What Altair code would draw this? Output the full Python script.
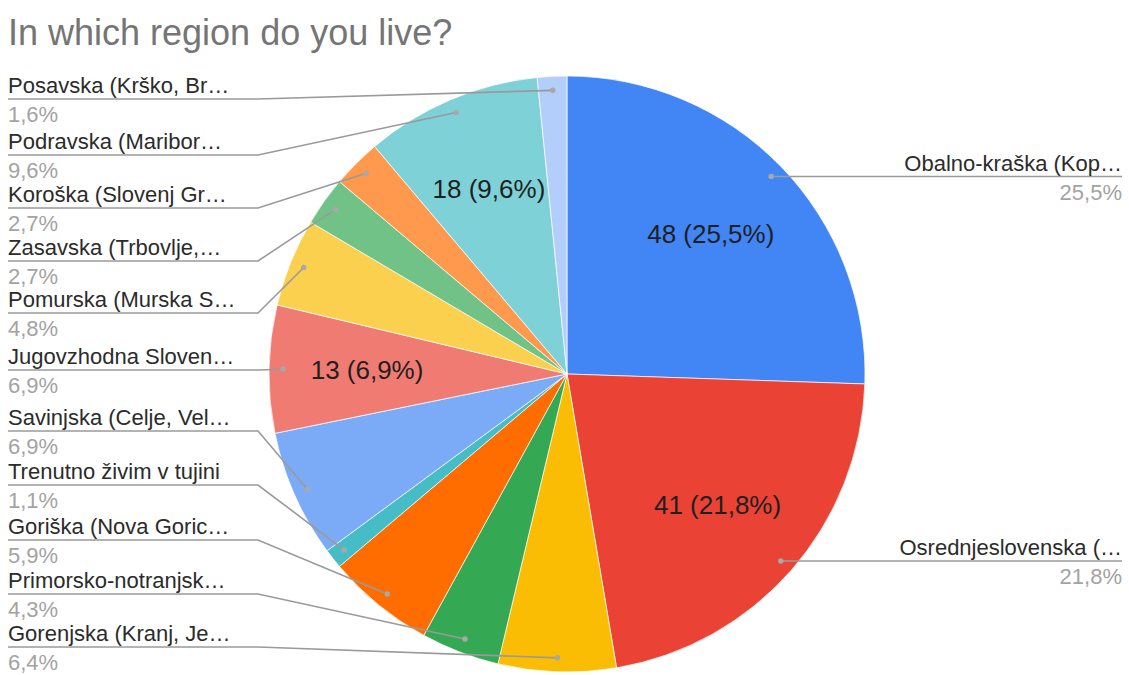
import math
import altair as alt
import pandas as pd

# ---------------- data ----------------
title = "In which region do you live?"
regions = [
    "Obalno-kraška (Kop…",
    "Osrednjeslovenska (…",
    "Gorenjska (Kranj, Je…",
    "Primorsko-notranjsk…",
    "Goriška (Nova Goric…",
    "Trenutno živim v tujini",
    "Savinjska (Celje, Vel…",
    "Jugovzhodna Sloven…",
    "Pomurska (Murska S…",
    "Zasavska (Trbovlje,…",
    "Koroška (Slovenj Gr…",
    "Podravska (Maribor…",
    "Posavska (Krško, Br…",
]
counts = [48, 41, 12, 8, 11, 2, 13, 13, 9, 5, 5, 18, 3]
show_inner = [True, True, False, False, False, False, False, True, False, False, False, True, False]
colors = [
    "#4285F4", "#EA4335", "#FBBC04", "#34A853", "#FF6D01", "#46BDC6", "#7BAAF7",
    "#F07B72", "#FCD04F", "#71C287", "#FF994D", "#7ED1D7", "#B3CEFB",
]

# ---------------- layout ----------------
CX, CY, R = 567, 374, 298
DOT_R = 284
INNER_R = 200
LEFT_X0, KNEE_X, RIGHT_X1 = 8, 258, 1122
W, H = 1129, 675
FONT = "Arial, Liberation Sans, sans-serif"
# underline y of the left-hand labels, by slice index
left_line_y = {2: 647, 3: 594, 4: 540, 5: 485, 6: 431, 7: 370, 8: 313,
               9: 261, 10: 208, 11: 155, 12: 99}

total = sum(counts)
rows, line_rows = [], []
cum = 0
for i, (reg, c) in enumerate(zip(regions, counts)):
    mid = (cum + c / 2) / total * 2 * math.pi
    cum += c
    dx = CX + DOT_R * math.sin(mid)
    dy = CY - DOT_R * math.cos(mid)
    pct = f"{c / total * 100:.1f}".replace(".", ",") + "%"
    side = "right" if i < 2 else "left"
    ly = dy if side == "right" else left_line_y[i]
    lx = RIGHT_X1 if side == "right" else LEFT_X0
    rows.append(dict(idx=i, region=reg, count=c, pct=pct, side=side,
                     dx=dx, dy=dy, lx=lx, ly=ly,
                     name_y=ly - 13, pct_y=ly + 16,
                     inner=f"{c} ({pct})" if show_inner[i] else ""))
    if side == "right":
        pts = [(dx, dy), (RIGHT_X1, dy)]
    else:
        pts = [(LEFT_X0, ly), (KNEE_X, ly), (dx, dy)]
    for s, (px, py) in enumerate(pts):
        line_rows.append(dict(region=reg, seq=s, x=px, y=py))

df = pd.DataFrame(rows)
lines_df = pd.DataFrame(line_rows)

xs = alt.Scale(domain=[0, W], range=[0, W], nice=False, zero=False)
ys = alt.Scale(domain=[0, H], range=[0, H], nice=False, zero=False)

base = alt.Chart(df)

arc = base.mark_arc(outerRadius=R, stroke="white", strokeWidth=0.7).encode(
    theta=alt.Theta("count:Q", stack=True),
    order=alt.Order("idx:Q"),
    color=alt.Color("region:N", scale=alt.Scale(domain=regions, range=colors), legend=None),
    x=alt.value(CX), y=alt.value(CY),
)

inner = base.mark_text(radius=INNER_R, fontSize=26, color="#1f1f1f", font=FONT).encode(
    theta=alt.Theta("count:Q", stack=True),
    order=alt.Order("idx:Q"),
    text="inner:N",
    x=alt.value(CX), y=alt.value(CY),
)

leaders = alt.Chart(lines_df).mark_line(color="#9a9a9a", strokeWidth=1.6).encode(
    x=alt.X("x:Q", scale=xs, axis=None),
    y=alt.Y("y:Q", scale=ys, axis=None),
    detail="region:N",
    order="seq:Q",
)

dots = base.mark_circle(size=30, color="#a8a8a8", opacity=1).encode(
    x=alt.X("dx:Q", scale=xs, axis=None),
    y=alt.Y("dy:Q", scale=ys, axis=None),
)

def labels(side, align):
    b = base.transform_filter(alt.datum.side == side)
    names = b.mark_text(align=align, baseline="middle", fontSize=22, color="#2b2b2b", font=FONT).encode(
        x=alt.X("lx:Q", scale=xs, axis=None),
        y=alt.Y("name_y:Q", scale=ys, axis=None),
        text="region:N",
    )
    pcts = b.mark_text(align=align, baseline="middle", fontSize=22, color="#a3a3a3", font=FONT).encode(
        x=alt.X("lx:Q", scale=xs, axis=None),
        y=alt.Y("pct_y:Q", scale=ys, axis=None),
        text="pct:N",
    )
    return names + pcts

title_mark = alt.Chart(pd.DataFrame({"t": [title]})).mark_text(
    align="left", baseline="alphabetic", fontSize=36, color="#757575", font=FONT
).encode(text="t:N", x=alt.value(LEFT_X0), y=alt.value(45))

chart = alt.layer(
    arc, inner, leaders, dots, labels("left", "left"), labels("right", "right"), title_mark
).properties(
    width=W, height=H, padding=0, autosize="none", background="white"
).configure_view(stroke=None)

chart.save("out.html", embed_options={"renderer": "svg", "actions": False})
